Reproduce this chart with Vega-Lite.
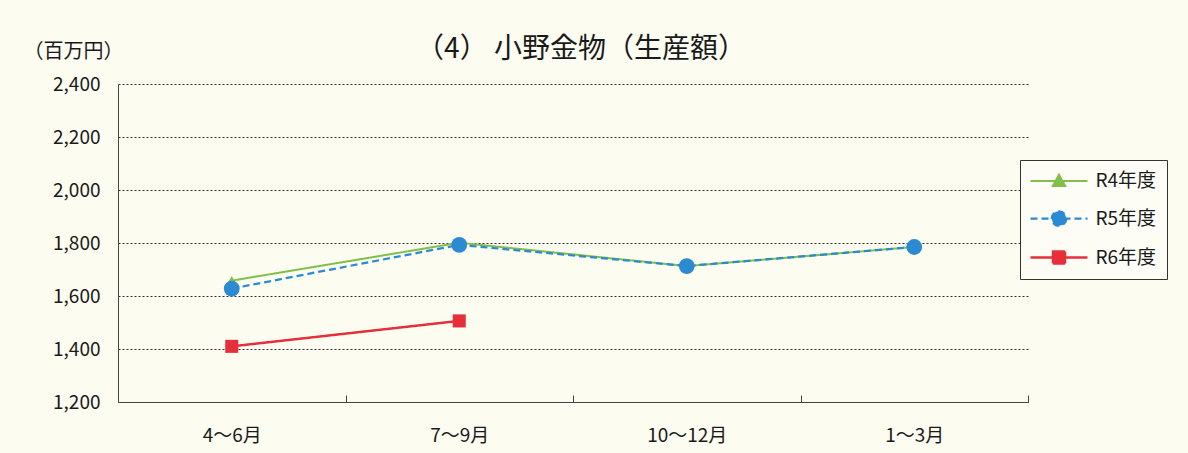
{
  "$schema": "https://vega.github.io/schema/vega-lite/v6.json",
  "width": 910,
  "height": 318,
  "autosize": {"type": "none"},
  "padding": {"left": 118, "top": 84, "right": 160, "bottom": 51},
  "background": "#fcfcf1",
  "config": {
    "font": "Noto Sans CJK JP",
    "view": {"stroke": null},
    "axis": {"labelFont": "Noto Sans CJK JP", "labelColor": "#1a1a1a", "titleColor": "#1a1a1a", "domainColor": "#444", "tickColor": "#444"}
  },
  "title": {
    "text": "（4） 小野金物（生産額）",
    "fontSize": 28,
    "fontWeight": "normal",
    "color": "#1a1a1a",
    "anchor": "middle",
    "frame": "group",
    "offset": -23,
    "dx": 8
  },
  "data": {
    "values": [
      {"series": "R4年度", "period": "4～6月", "value": 1658},
      {"series": "R4年度", "period": "7～9月", "value": 1801},
      {"series": "R4年度", "period": "10～12月", "value": 1713},
      {"series": "R4年度", "period": "1～3月", "value": 1785},
      {"series": "R5年度", "period": "4～6月", "value": 1628},
      {"series": "R5年度", "period": "7～9月", "value": 1793},
      {"series": "R5年度", "period": "10～12月", "value": 1713},
      {"series": "R5年度", "period": "1～3月", "value": 1785},
      {"series": "R6年度", "period": "4～6月", "value": 1410},
      {"series": "R6年度", "period": "7～9月", "value": 1506}
    ]
  },
  "encoding": {
    "x": {
      "field": "period",
      "type": "nominal",
      "sort": ["4～6月", "7～9月", "10～12月", "1～3月"],
      "scale": {"type": "band", "paddingInner": 0, "paddingOuter": 0},
      "axis": {
        "title": null,
        "labelAngle": 0,
        "labelFontSize": 19,
        "labelPadding": 31,
        "tickBand": "extent",
        "tickSize": -7,
        "domainColor": "#444",
        "grid": false
      }
    },
    "y": {
      "field": "value",
      "type": "quantitative",
      "scale": {"domain": [1200, 2400], "nice": false, "zero": false},
      "axis": {
        "values": [1200, 1400, 1600, 1800, 2000, 2200, 2400],
        "format": ",.0f",
        "labelFontSize": 19,
        "labelPadding": 18,
        "ticks": false,
        "grid": true,
        "gridColor": "#333",
        "gridDash": [2, 2],
        "gridWidth": 1,
        "title": "（百万円）",
        "titleAngle": 0,
        "titleFontSize": 20,
        "titleFontWeight": "normal",
        "titleX": -45,
        "titleY": -33,
        "titleAlign": "center",
        "titleBaseline": "middle"
      }
    },
    "color": {
      "field": "series",
      "type": "nominal",
      "scale": {"domain": ["R4年度", "R5年度", "R6年度"], "range": ["#82bf4a", "#2b8ad2", "#e5303c"]},
      "legend": {
        "title": null,
        "orient": "none",
        "legendX": 902,
        "legendY": 76,
        "labelFontSize": 19,
        "labelColor": "#1a1a1a",
        "symbolSize": 400,
        "symbolOffset": 17.5,
        "labelOffset": 25,
        "rowPadding": 15,
        "padding": 10,
        "strokeColor": "#333",
        "fillColor": "#fdfdf6",
        "cornerRadius": 0,
        "encode": {
          "symbols": {
            "update": {
              "shape": {"signal": "datum.value === 'R4年度' ? 'M-2.85,0H2.85M0,-0.62L0.62,0.5L-0.62,0.5Z' : datum.value === 'R5年度' ? 'M-2.85,0H2.85M0.72,0A0.72,0.72,0,1,1,-0.72,0A0.72,0.72,0,1,1,0.72,0Z' : 'M-2.85,0H2.85M-0.6,-0.6H0.6V0.6H-0.6Z'"},
              "size": {"value": 400},
              "fill": {"signal": "scale('color', datum.value)"},
              "stroke": {"signal": "scale('color', datum.value)"},
              "strokeDash": {"signal": "datum.value === 'R5年度' ? [6, 4] : [1, 0]"},
              "strokeWidth": {"signal": "datum.value === 'R6年度' ? 2.5 : 2"},
              "opacity": {"value": 1},
              "fillOpacity": {"value": 1},
              "strokeOpacity": {"value": 1}
            }
          }
        }
      }
    }
  },
  "layer": [
    {
      "mark": {"type": "line"},
      "encoding": {
        "strokeDash": {
          "field": "series",
          "type": "nominal",
          "scale": {"domain": ["R4年度", "R5年度", "R6年度"], "range": [[1, 0], [7, 4], [1, 0]]},
          "legend": null
        },
        "strokeWidth": {
          "field": "series",
          "type": "nominal",
          "scale": {"domain": ["R4年度", "R5年度", "R6年度"], "range": [2, 2.5, 3]},
          "legend": null
        }
      }
    },
    {
      "transform": [{"filter": "datum.series === 'R4年度'"}],
      "mark": {"type": "point", "filled": true, "opacity": 1, "shape": "triangle-up", "size": 120}
    },
    {
      "transform": [{"filter": "datum.series === 'R5年度'"}],
      "mark": {"type": "point", "filled": true, "opacity": 1, "shape": "circle", "size": 250}
    },
    {
      "transform": [{"filter": "datum.series === 'R6年度'"}],
      "mark": {"type": "point", "filled": true, "opacity": 1, "shape": "square", "size": 170}
    }
  ]
}
